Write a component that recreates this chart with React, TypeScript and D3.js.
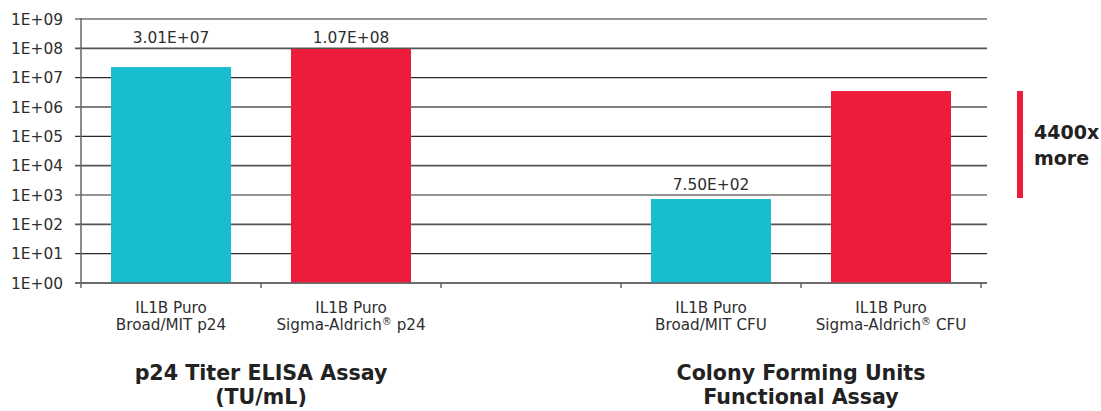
import React from "react";
import * as d3 from "d3";

const categories = [
  ["IL1B Puro", "Broad/MIT p24"],
  ["IL1B Puro", "Sigma-Aldrich\u00AE p24"],
  ["", ""],
  ["IL1B Puro", "Broad/MIT CFU"],
  ["IL1B Puro", "Sigma-Aldrich\u00AE CFU"],
];
const slotKeys = ["broadP24", "sigmaP24", "gap", "broadCFU", "sigmaCFU"];
const barKeys = ["broadP24", "sigmaP24", "broadCFU", "sigmaCFU"];
const barValues = [2.3e7, 9.5e7, 7.3e2, 3.5e6];
const barColors = ["#19BDD0", "#EE1C3B", "#19BDD0", "#EE1C3B"];
const valueLabels = ["3.01E+07", "1.07E+08", "7.50E+02", ""];
const tickValues = [1, 1e1, 1e2, 1e3, 1e4, 1e5, 1e6, 1e7, 1e8, 1e9];
const tickLabels = ["1E+00", "1E+01", "1E+02", "1E+03", "1E+04", "1E+05", "1E+06", "1E+07", "1E+08", "1E+09"];
const groupTitles = [
  { between: ["broadP24", "sigmaP24"], lines: ["p24 Titer ELISA Assay", "(TU/mL)"] },
  { between: ["broadCFU", "sigmaCFU"], lines: ["Colony Forming Units", "Functional Assay"] },
];
const annotation = { lines: ["4400x", "more"] };

const W = 1101;
const H = 411;
const left = 81;
const right = 981;
const top = 19;
const bottom = 283;

function renderLabel(s: string) {
  const parts = s.split("\u00AE");
  if (parts.length === 1) return s;
  return (
    <>
      {parts[0]}
      <tspan fontSize={10} dy={-5}>{"\u00AE"}</tspan>
      <tspan dy={5}>{parts[1]}</tspan>
    </>
  );
}

export default function App() {
  const x = d3.scaleBand().domain(slotKeys).range([left, right]).paddingInner(0).paddingOuter(0);
  const y = d3.scaleLog().domain([1, 1e9]).range([bottom, top]);
  const bw = x.bandwidth();
  const barW = bw * (120 / 180);
  const font = "'DejaVu Sans', Verdana, sans-serif";
  const textColor = "#2e2e2e";

  return (
    <svg width={W} height={H} style={{ position: "absolute", left: 0, top: 0 }} fontFamily={font}>
      <rect width={W} height={H} fill="#fff" />
      {tickValues.map((t, i) => (
        <g key={"g" + i}>
          <line x1={left - 6} x2={987} y1={y(t)} y2={y(t)} stroke={i % 2 ? "#2a2a2a" : "#555"} strokeWidth={i % 2 ? 1.2 : 1.6} />
          <text x={63} y={y(t) + 5.5} textAnchor="end" fontSize={15.4} fill={textColor}>
            {tickLabels[i]}
          </text>
        </g>
      ))}
      {barKeys.map((k, i) => {
        const cx = (x(k) as number) + bw / 2;
        const labelY = y(Math.pow(10, Math.ceil(Math.log10(barValues[i])))) - 5.5;
        return (
          <g key={k}>
            <rect x={cx - barW / 2} y={y(barValues[i])} width={barW} height={bottom - y(barValues[i])} fill={barColors[i]} />
            {valueLabels[i] && (
              <text x={cx} y={labelY} textAnchor="middle" fontSize={15.4} fill={textColor}>
                {valueLabels[i]}
              </text>
            )}
          </g>
        );
      })}
      <line x1={left} x2={left} y1={top - 1} y2={bottom + 5} stroke="#666" strokeWidth={1.5} />
      <line x1={left - 6} x2={987} y1={bottom} y2={bottom} stroke="#666" strokeWidth={1.6} />
      {slotKeys.map((k) => (
        <line key={"t" + k} x1={(x(k) as number) + bw} x2={(x(k) as number) + bw} y1={bottom} y2={bottom + 5} stroke="#666" strokeWidth={1.5} />
      ))}
      {slotKeys.map((k, i) =>
        categories[i][0] ? (
          <g key={"c" + k}>
            <text x={(x(k) as number) + bw / 2} y={313} textAnchor="middle" fontSize={15.2} fill={textColor}>
              {categories[i][0]}
            </text>
            <text x={(x(k) as number) + bw / 2} y={330} textAnchor="middle" fontSize={15.2} fill={textColor}>
              {renderLabel(categories[i][1])}
            </text>
          </g>
        ) : null
      )}
      {groupTitles.map((g, i) => {
        const cx = (x(g.between[0]) as number) + bw;
        return (
          <text key={"gt" + i} textAnchor="middle" fontSize={20.6} fontWeight="bold" fill="#222">
            <tspan x={cx} y={380}>{g.lines[0]}</tspan>
            <tspan x={cx} y={404}>{g.lines[1]}</tspan>
          </text>
        );
      })}
      <rect x={1017} y={91} width={6} height={107} fill="#EE1C3B" />
      <text fontSize={19} fontWeight="bold" fill="#222">
        <tspan x={1034} y={139}>{annotation.lines[0]}</tspan>
        <tspan x={1034} y={165}>{annotation.lines[1]}</tspan>
      </text>
    </svg>
  );
}
